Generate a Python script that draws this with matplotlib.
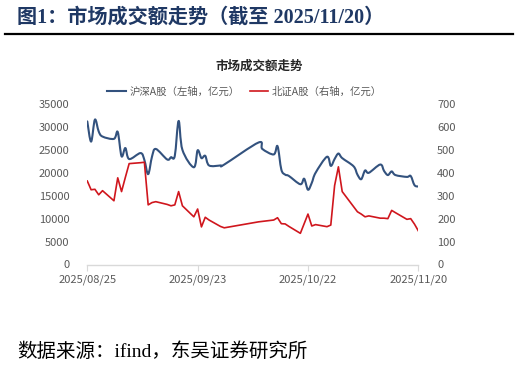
import matplotlib
matplotlib.use('Agg')
import matplotlib.pyplot as plt
import matplotlib.dates as mdates
import pandas as pd
from matplotlib.lines import Line2D
from matplotlib.path import Path
from matplotlib.patches import PathPatch

plt.rcParams['font.family'] = ['Noto Sans CJK SC', 'DejaVu Sans']

# ---------------- data ----------------
dates = ['2025-08-25', '2025-08-26', '2025-08-27', '2025-08-28', '2025-08-29',
         '2025-09-01', '2025-09-02', '2025-09-03', '2025-09-04', '2025-09-05',
         '2025-09-08', '2025-09-09', '2025-09-10', '2025-09-11', '2025-09-12',
         '2025-09-15', '2025-09-16', '2025-09-17', '2025-09-18', '2025-09-19',
         '2025-09-22', '2025-09-23', '2025-09-24', '2025-09-25', '2025-09-26',
         '2025-09-29', '2025-09-30', '2025-10-09', '2025-10-10',
         '2025-10-13', '2025-10-14', '2025-10-15', '2025-10-16', '2025-10-17',
         '2025-10-20', '2025-10-21', '2025-10-22', '2025-10-23', '2025-10-24',
         '2025-10-27', '2025-10-28', '2025-10-29', '2025-10-30', '2025-10-31',
         '2025-11-03', '2025-11-04', '2025-11-05', '2025-11-06', '2025-11-07',
         '2025-11-10', '2025-11-11', '2025-11-12', '2025-11-13', '2025-11-14',
         '2025-11-17', '2025-11-18', '2025-11-19', '2025-11-20']

# 沪深A股成交额 (亿元, left axis)
sh_sz = [31200, 26800, 31600, 29000, 27900,
         27400, 28900, 23600, 25400, 23000,
         24300, 22800, 19700, 23500, 25200,
         22900, 23400, 23700, 31300, 25000,
         21200, 24900, 23200, 23700, 21600,
         21600, 21800, 26600, 25200,
         24000, 25800, 20700, 19600, 19300,
         17500, 18700, 16300, 17800, 20000,
         23500, 21500, 23000, 24200, 23200,
         21400, 19600, 18600, 20500, 20000,
         21800, 20400, 19500, 20300, 19500,
         19100, 19300, 17300, 17000]

# 北证A股成交额 (亿元, right axis)
bse = [364, 326, 328, 304, 322,
       278, 378, 318, 380, 440,
       444, 446, 260, 270, 274,
       262, 256, 260, 318, 256,
       208, 242, 164, 206, 194,
       166, 160, 186, 188,
       194, 204, 178, 177, 166,
       136, 178, 220, 168, 174,
       165, 172, 344, 426, 318,
       252, 230, 220, 208, 212,
       202, 202, 200, 236, 226,
       197, 200, 176, 147]

tick_dates = ['2025-08-25', '2025-09-23', '2025-10-22', '2025-11-20']
tick_labels = ['2025/08/25', '2025/09/23', '2025/10/22', '2025/11/20']
left_ticks = [0, 5000, 10000, 15000, 20000, 25000, 30000, 35000]
right_ticks = [0, 100, 200, 300, 400, 500, 600, 700]

series_labels = ['沪深A股（左轴，亿元）', '北证A股（右轴，亿元）']

# ---------------- style ----------------
BLUE = '#33527E'
RED = '#D0161D'
GREY_TXT = '#595959'
AXIS_GREY = '#D9D9D9'
W, H = 518, 365


def smooth_path(xs, ys):
    """Excel-like smoothed line rendering: cubic Bezier segments through the
    data points (Catmull-Rom control handles)."""
    n = len(xs)
    verts = [(xs[0], ys[0])]
    codes = [Path.MOVETO]
    for i in range(n - 1):
        xp, yp = (xs[i - 1], ys[i - 1]) if i > 0 else (xs[i], ys[i])
        xn2, yn2 = (xs[i + 2], ys[i + 2]) if i + 2 < n else (xs[i + 1], ys[i + 1])
        c1 = (xs[i] + (xs[i + 1] - xp) / 6.0, ys[i] + (ys[i + 1] - yp) / 6.0)
        c2 = (xs[i + 1] - (xn2 - xs[i]) / 6.0, ys[i + 1] - (yn2 - ys[i]) / 6.0)
        verts += [c1, c2, (xs[i + 1], ys[i + 1])]
        codes += [Path.CURVE4] * 3
    return Path(verts, codes)


fig = plt.figure(figsize=(W / 100, H / 100), dpi=100)
fig.patch.set_facecolor('white')

x0, x1 = 87.3, 418.3
y0, y1 = 264.5, 104.0
ax = fig.add_axes([x0 / W, (H - y0) / H, (x1 - x0) / W, (y0 - y1) / H])
ax2 = ax.twinx()

x = pd.to_datetime(dates)
xnum = mdates.date2num(x)

# blue series: smoothed line (as in the original Excel chart)
ax.add_patch(PathPatch(smooth_path(list(xnum), list(sh_sz)), facecolor='none',
                       edgecolor=BLUE, lw=1.5, joinstyle='round',
                       capstyle='round', zorder=3))
l1 = Line2D([], [], color=BLUE, lw=1.5)
l2, = ax2.plot(x, bse, color=RED, lw=1.2, solid_joinstyle='round', zorder=3)

ax.set_xlim(pd.Timestamp(tick_dates[0]), pd.Timestamp(tick_dates[-1]))
ax.set_ylim(0, 35000)
ax2.set_ylim(0, 700)

ax.set_xticks(pd.to_datetime(tick_dates))
ax.set_xticklabels(tick_labels)
ax.set_yticks(left_ticks)
ax.set_yticklabels([str(v) for v in left_ticks])
ax2.set_yticks(right_ticks)
ax2.set_yticklabels([str(v) for v in right_ticks])

for a in (ax, ax2):
    for s in a.spines.values():
        s.set_visible(False)
    a.set_facecolor('none')
ax.spines['bottom'].set_visible(True)
ax.spines['bottom'].set_color(AXIS_GREY)
ax.spines['bottom'].set_linewidth(1.0)

ax.tick_params(axis='x', length=4, width=0.8, color=AXIS_GREY, labelsize=8,
               labelcolor=GREY_TXT, pad=3)
ax.tick_params(axis='y', length=0, pad=13, labelsize=8, labelcolor=GREY_TXT)
ax2.tick_params(axis='y', length=0, pad=13.5, labelsize=8, labelcolor=GREY_TXT)

# legend
fig.legend([l1, l2], series_labels, loc='center',
           bbox_to_anchor=(244.5 / W, 1 - 92 / H), ncol=2, frameon=False,
           fontsize=7.5, labelcolor=GREY_TXT, handlelength=1.8,
           handletextpad=0.3, columnspacing=1.0)

# chart title
fig.text(259 / W, 1 - 66 / H, '市场成交额走势', ha='center', va='center',
         fontsize=9, fontweight='bold', color='#262626')

# header
fig.text(17 / W, 1 - 17.5 / H, '图1：市场成交额走势（截至 2025/11/20）',
         ha='left', va='center', fontsize=14.5, fontweight='bold',
         color='#1F3864', family=['Liberation Serif', 'Noto Sans CJK SC'])
fig.add_artist(Line2D([5 / W, 513 / W], [1 - 34.3 / H, 1 - 34.3 / H],
                      color='black', lw=1.6, transform=fig.transFigure))

# source
fig.text(17 / W, 1 - 352 / H, '数据来源：ifind，东吴证券研究所',
         ha='left', va='center', fontsize=14, color='black',
         family=['Liberation Serif', 'Noto Sans CJK SC'])

fig.savefig('out.png', dpi=100, facecolor='white')
